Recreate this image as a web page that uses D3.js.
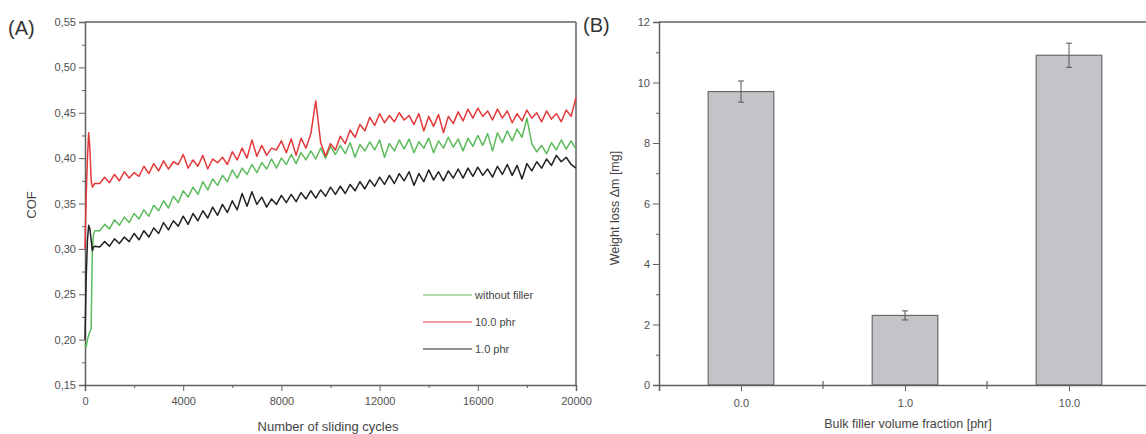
<!DOCTYPE html>
<html>
<head>
<meta charset="utf-8">
<script src="https://cdn.jsdelivr.net/npm/d3@7"></script>
<style>
  html, body { margin: 0; padding: 0; background: #fff; }
  svg { display: block; font-family: "Liberation Sans", Arial, sans-serif; }
</style>
</head>
<body>
<svg id="chart" width="1146" height="434"></svg>
<script>
// ---------- Panel A data ----------
const cycles = [
  0, 50, 100, 150, 200, 250, 300, 350, 400,
  600, 800, 1000, 1200, 1400, 1600, 1800, 2000, 2200, 2400,
  2600, 2800, 3000, 3200, 3400, 3600, 3800, 4000, 4200, 4400,
  4600, 4800, 5000, 5200, 5400, 5600, 5800, 6000, 6200, 6400,
  6600, 6800, 7000, 7200, 7400, 7600, 7800, 8000, 8200, 8400,
  8600, 8800, 9000, 9200, 9400, 9600, 9800, 10000, 10200, 10400,
  10600, 10800, 11000, 11200, 11400, 11600, 11800, 12000, 12200, 12400,
  12600, 12800, 13000, 13200, 13400, 13600, 13800, 14000, 14200, 14400,
  14600, 14800, 15000, 15200, 15400, 15600, 15800, 16000, 16200, 16400,
  16600, 16800, 17000, 17200, 17400, 17600, 17800, 18000, 18200, 18400,
  18600, 18800, 19000, 19200, 19400, 19600, 19800, 20000
];
const withoutFiller = [
  0.195, 0.192, 0.200, 0.205, 0.209, 0.212, 0.300, 0.316, 0.320,
  0.320, 0.327, 0.322, 0.332, 0.326, 0.335, 0.329, 0.339, 0.333, 0.343,
  0.336, 0.348, 0.342, 0.353, 0.345, 0.358, 0.351, 0.364, 0.357, 0.368,
  0.360, 0.374, 0.365, 0.377, 0.370, 0.381, 0.374, 0.387, 0.378, 0.389,
  0.382, 0.393, 0.384, 0.395, 0.388, 0.399, 0.389, 0.400, 0.393, 0.404,
  0.394, 0.406, 0.398, 0.408, 0.399, 0.411, 0.400, 0.413, 0.404, 0.414,
  0.405, 0.417, 0.401, 0.415, 0.408, 0.418, 0.409, 0.420, 0.401, 0.416,
  0.408, 0.420, 0.410, 0.421, 0.406, 0.418, 0.411, 0.422, 0.406, 0.419,
  0.411, 0.423, 0.412, 0.421, 0.408, 0.422, 0.413, 0.425, 0.414, 0.427,
  0.408, 0.428, 0.417, 0.430, 0.419, 0.432, 0.423, 0.444, 0.416, 0.407,
  0.414, 0.405, 0.417, 0.409, 0.420, 0.410, 0.419, 0.410
];
const phr10 = [
  0.300, 0.360, 0.400, 0.428, 0.410, 0.376, 0.368, 0.370, 0.372,
  0.372, 0.379, 0.373, 0.382, 0.375, 0.385, 0.378, 0.384, 0.380, 0.391,
  0.383, 0.394, 0.386, 0.397, 0.388, 0.396, 0.393, 0.404, 0.389, 0.398,
  0.391, 0.403, 0.388, 0.399, 0.395, 0.401, 0.393, 0.407, 0.398, 0.411,
  0.400, 0.420, 0.402, 0.414, 0.403, 0.411, 0.409, 0.419, 0.406, 0.421,
  0.403, 0.422, 0.411, 0.427, 0.463, 0.417, 0.402, 0.416, 0.409, 0.424,
  0.416, 0.431, 0.423, 0.437, 0.430, 0.445, 0.436, 0.449, 0.439, 0.447,
  0.440, 0.450, 0.442, 0.447, 0.437, 0.449, 0.430, 0.446, 0.435, 0.448,
  0.428, 0.446, 0.438, 0.451, 0.441, 0.454, 0.444, 0.455, 0.446, 0.452,
  0.442, 0.454, 0.444, 0.452, 0.439, 0.449, 0.441, 0.453, 0.444, 0.450,
  0.440, 0.452, 0.443, 0.449, 0.440, 0.453, 0.446, 0.467
];
const phr1 = [
  0.200, 0.270, 0.310, 0.326, 0.322, 0.310, 0.298, 0.302, 0.303,
  0.302, 0.308, 0.303, 0.311, 0.306, 0.313, 0.308, 0.317, 0.310, 0.320,
  0.313, 0.323, 0.317, 0.329, 0.321, 0.331, 0.325, 0.336, 0.327, 0.339,
  0.331, 0.342, 0.334, 0.346, 0.337, 0.349, 0.340, 0.353, 0.343, 0.361,
  0.347, 0.363, 0.349, 0.357, 0.346, 0.355, 0.349, 0.359, 0.351, 0.360,
  0.352, 0.362, 0.355, 0.364, 0.356, 0.365, 0.358, 0.368, 0.360, 0.369,
  0.361, 0.371, 0.364, 0.374, 0.366, 0.376, 0.369, 0.379, 0.371, 0.381,
  0.372, 0.383, 0.375, 0.385, 0.370, 0.383, 0.374, 0.387, 0.376, 0.385,
  0.375, 0.386, 0.378, 0.388, 0.378, 0.389, 0.380, 0.390, 0.381, 0.388,
  0.379, 0.391, 0.382, 0.393, 0.381, 0.392, 0.377, 0.394, 0.386, 0.396,
  0.389, 0.399, 0.392, 0.403, 0.396, 0.401, 0.393, 0.389
];
const seriesNames = ["without filler", "10.0 phr", "1.0 phr"];
const seriesColors = ["#5cbb5c", "#e3393b", "#222222"];
const cofTicks = [0.15, 0.20, 0.25, 0.30, 0.35, 0.40, 0.45, 0.50, 0.55];
const cycleTicks = [0, 4000, 8000, 12000, 16000, 20000];

// ---------- Panel B data ----------
const fillerCategories = ["0.0", "1.0", "10.0"];
const weightLoss = [9.7, 2.3, 10.9];
const weightLossErr = [0.35, 0.15, 0.4];
const weightTicks = [0, 2, 4, 6, 8, 10, 12];

const svg = d3.select("#chart");
const axisColor = "#606060";
const labelColor = "#505050";

// ================= Panel A =================
const A = { left: 85, right: 576, top: 22, bottom: 385 };
const xA = d3.scaleLinear().domain([0, 20000]).range([A.left, A.right]);
const yA = d3.scaleLinear().domain([0.15, 0.55]).range([A.bottom, A.top]);
const gA = svg.append("g");
const fmtComma = d => d3.format(".2f")(d).replace(".", ",");

// frame top / right
gA.append("line").attr("x1", A.left).attr("x2", A.right).attr("y1", A.top).attr("y2", A.top)
  .attr("stroke", axisColor).attr("stroke-width", 1.5);
gA.append("line").attr("x1", A.right).attr("x2", A.right).attr("y1", A.top).attr("y2", A.bottom)
  .attr("stroke", axisColor).attr("stroke-width", 1.5);

// minor ticks
const yAminor = gA.append("g").attr("transform", `translate(${A.left},0)`)
  .call(d3.axisLeft(yA).tickValues(d3.range(0.175, 0.55, 0.05)).tickSize(3).tickFormat(""));
const xAminor = gA.append("g").attr("transform", `translate(0,${A.bottom})`)
  .call(d3.axisBottom(xA).tickValues(d3.range(2000, 20000, 4000)).tickSize(3).tickFormat(""));
[yAminor, xAminor].forEach(g => { g.select(".domain").remove(); g.selectAll("line").attr("stroke", axisColor); });

const yAxisA = gA.append("g").attr("transform", `translate(${A.left},0)`)
  .call(d3.axisLeft(yA).tickValues(cofTicks).tickSize(6).tickPadding(3).tickFormat(fmtComma));
const xAxisA = gA.append("g").attr("transform", `translate(0,${A.bottom})`)
  .call(d3.axisBottom(xA).tickValues(cycleTicks).tickSize(6).tickPadding(6).tickFormat(d3.format("d")));
[yAxisA, xAxisA].forEach(g => {
  g.select(".domain").attr("stroke", axisColor).attr("stroke-width", 1.5);
  g.selectAll(".tick line").attr("stroke", axisColor);
  g.selectAll("text").attr("fill", labelColor).attr("font-size", 11)
    .attr("font-family", "Liberation Sans, Arial, sans-serif");
});

// lines
const dataSets = [withoutFiller, phr10, phr1];
const lineGen = d3.line().x((d, i) => xA(cycles[i])).y(d => yA(d));
const drawOrder = [0, 2, 1];
drawOrder.forEach(k => {
  gA.append("path").datum(dataSets[k])
    .attr("d", lineGen)
    .attr("fill", "none")
    .attr("stroke", seriesColors[k])
    .attr("stroke-width", 1.5)
    .attr("stroke-linejoin", "round");
});

// legend
const legA = gA.append("g");
seriesNames.forEach((name, i) => {
  const y = 295 + i * 27;
  legA.append("line").attr("x1", 423).attr("x2", 472).attr("y1", y).attr("y2", y)
    .attr("stroke", seriesColors[i]).attr("stroke-width", 1.2);
  legA.append("text").attr("x", 475).attr("y", y).attr("dy", "0.35em")
    .attr("font-size", 11).attr("fill", "#444").text(name);
});

// labels
gA.append("text").attr("x", 8).attr("y", 35).attr("font-size", 20).attr("fill", "#333").text("(A)");
gA.append("text").attr("transform", `translate(36,205) rotate(-90)`).attr("text-anchor", "middle")
  .attr("font-size", 13).attr("fill", "#444").text("COF");
gA.append("text").attr("x", 328).attr("y", 431).attr("text-anchor", "middle")
  .attr("font-size", 13).attr("fill", "#444").text("Number of sliding cycles");

// ================= Panel B =================
const B = { left: 659, top: 22, bottom: 385 };
const catStep = 164;
const xB = d3.scaleLinear().domain([0.5, 3.5]).range([B.left, B.left + 3 * catStep]);
const yB = d3.scaleLinear().domain([0, 12]).range([B.bottom, B.top]);
const gB = svg.append("g");

gB.append("line").attr("x1", B.left).attr("x2", 1146).attr("y1", B.top).attr("y2", B.top)
  .attr("stroke", axisColor).attr("stroke-width", 1.5);

// bars
const barW = 0.4;
gB.selectAll("rect.bar").data(weightLoss).enter().append("rect")
  .attr("class", "bar")
  .attr("x", (d, i) => xB(i + 1 - barW / 2))
  .attr("width", (d, i) => xB(i + 1 + barW / 2) - xB(i + 1 - barW / 2))
  .attr("y", d => yB(d))
  .attr("height", d => yB(0) - yB(d))
  .attr("fill", "#c2c4c7").attr("stroke", "#6a6a6a").attr("stroke-width", 1.2);

// error bars
weightLoss.forEach((v, i) => {
  const cx = xB(i + 1), e = weightLossErr[i];
  const g = gB.append("g").attr("stroke", "#555").attr("stroke-width", 1);
  g.append("line").attr("x1", cx).attr("x2", cx).attr("y1", yB(v + e)).attr("y2", yB(v - e));
  [v + e, v - e].forEach(t => g.append("line").attr("x1", cx - 3).attr("x2", cx + 3)
    .attr("y1", yB(t)).attr("y2", yB(t)));
});

const yBminor = gB.append("g").attr("transform", `translate(${B.left},0)`)
  .call(d3.axisLeft(yB).tickValues(d3.range(1, 12, 2)).tickSize(3).tickFormat(""));
yBminor.select(".domain").remove();
yBminor.selectAll("line").attr("stroke", axisColor);

const yAxisB = gB.append("g").attr("transform", `translate(${B.left},0)`)
  .call(d3.axisLeft(yB).tickValues(weightTicks).tickSize(6).tickPadding(3).tickFormat(d3.format("d")));
const xAxisB = gB.append("g").attr("transform", `translate(0,${B.bottom})`)
  .call(d3.axisBottom(xB).tickValues([1, 2, 3]).tickSize(6).tickPadding(8)
    .tickFormat((d, i) => fillerCategories[i]));
[yAxisB, xAxisB].forEach(g => {
  g.select(".domain").attr("stroke", axisColor).attr("stroke-width", 1.5);
  g.selectAll(".tick line").attr("stroke", axisColor);
  g.selectAll("text").attr("fill", labelColor).attr("font-size", 11)
    .attr("font-family", "Liberation Sans, Arial, sans-serif");
});
// intermediate crossing ticks
[1.5, 2.5].forEach(t => gB.append("line").attr("x1", xB(t)).attr("x2", xB(t))
  .attr("y1", B.bottom - 4).attr("y2", B.bottom + 4).attr("stroke", axisColor).attr("stroke-width", 1.2));

gB.append("text").attr("x", 583).attr("y", 32).attr("font-size", 20).attr("fill", "#333").text("(B)");
gB.append("text").attr("transform", `translate(619,208) rotate(-90)`).attr("text-anchor", "middle")
  .attr("font-size", 12.5).attr("fill", "#444").text("Weight loss \u0394m [mg]");
gB.append("text").attr("x", 908).attr("y", 428).attr("text-anchor", "middle")
  .attr("font-size", 12.5).attr("fill", "#444").text("Bulk filler volume fraction [phr]");
</script>
</body>
</html>
